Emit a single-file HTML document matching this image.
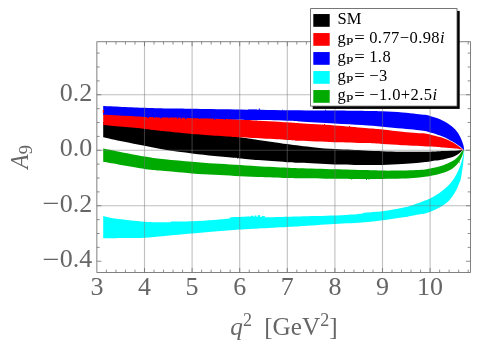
<!DOCTYPE html>
<html><head><meta charset="utf-8"><title>A9 vs q2</title>
<style>
html,body{margin:0;padding:0;background:#fff;}
body{width:500px;height:354px;overflow:hidden;position:relative;font-family:"Liberation Serif",serif;}
</style></head><body>
<svg width="500" height="354" viewBox="0 0 500 354" style="position:absolute;left:0;top:0;will-change:transform">
<rect width="500" height="354" fill="#fff"/>
<path d="M103.20 122.00 C110.08 122.83 129.70 125.42 144.50 127.00 C159.30 128.58 176.92 129.92 192.00 131.50 C207.08 133.08 227.00 135.53 235.00 136.50 C243.00 137.47 236.17 136.73 240.00 137.30 C243.83 137.87 252.62 139.13 258.00 139.90 C263.38 140.67 267.47 141.20 272.30 141.90 C277.13 142.60 282.38 143.45 287.00 144.10 C291.62 144.75 295.33 145.25 300.00 145.80 C304.67 146.35 309.25 146.85 315.00 147.40 C320.75 147.95 328.42 148.70 334.50 149.10 C340.58 149.50 346.42 149.58 351.50 149.80 C356.58 150.02 359.83 150.17 365.00 150.40 C370.17 150.63 376.33 150.98 382.50 151.20 C388.67 151.42 394.08 151.62 402.00 151.70 C409.92 151.78 423.13 151.80 430.00 151.70 C436.87 151.60 438.63 151.32 443.20 151.10 C447.77 150.88 454.22 150.57 457.40 150.40 C460.58 150.23 461.48 150.15 462.30 150.10 L462.50 150.20 C462.33 150.38 462.08 150.73 461.50 151.30 C460.92 151.87 460.08 152.82 459.00 153.60 C457.92 154.38 456.50 155.30 455.00 156.00 C453.50 156.70 451.97 157.23 450.00 157.80 C448.03 158.37 445.70 158.93 443.20 159.40 C440.70 159.87 437.20 160.25 435.00 160.60 C432.80 160.95 431.67 161.25 430.00 161.50 C428.33 161.75 427.27 161.85 425.00 162.10 C422.73 162.35 420.23 162.68 416.40 163.00 C412.57 163.32 407.65 163.68 402.00 164.00 C396.35 164.32 388.67 164.75 382.50 164.90 C376.33 165.05 373.00 164.98 365.00 164.90 C357.00 164.82 345.33 164.75 334.50 164.40 C323.67 164.05 307.92 163.17 300.00 162.80 C292.08 162.43 291.67 162.48 287.00 162.20 C282.33 161.92 276.83 161.45 272.00 161.10 C267.17 160.75 263.42 160.53 258.00 160.10 C252.58 159.67 243.33 158.88 239.50 158.50 C235.67 158.12 239.18 158.23 235.00 157.80 C230.82 157.37 221.57 156.63 214.40 155.90 C207.23 155.17 200.23 154.43 192.00 153.40 C183.77 152.37 172.92 150.97 165.00 149.70 C157.08 148.43 151.50 147.15 144.50 145.80 C137.50 144.45 129.88 143.02 123.00 141.60 C116.12 140.18 106.50 138.02 103.20 137.30 Z" fill="#000000"/>
<path d="M103.20 110.00 C110.08 110.67 129.70 112.83 144.50 114.00 C159.30 115.17 176.17 116.08 192.00 117.00 C207.83 117.92 229.67 118.97 239.50 119.50 C249.33 120.03 243.08 119.73 251.00 120.20 C258.92 120.67 278.83 121.78 287.00 122.30 C295.17 122.82 292.08 122.78 300.00 123.30 C307.92 123.82 323.67 124.63 334.50 125.40 C345.33 126.17 357.00 127.23 365.00 127.90 C373.00 128.57 376.28 128.76 382.50 129.40 C388.72 130.04 396.65 131.15 402.30 131.75 C407.95 132.35 412.62 132.71 416.40 133.00 C420.18 133.29 422.73 133.27 425.00 133.50 C427.27 133.73 428.33 134.02 430.00 134.40 C431.67 134.78 433.33 135.35 435.00 135.80 C436.67 136.25 438.33 136.62 440.00 137.10 C441.67 137.58 443.33 138.07 445.00 138.70 C446.67 139.33 448.50 140.18 450.00 140.90 C451.50 141.62 452.67 142.18 454.00 143.00 C455.33 143.82 456.83 144.97 458.00 145.80 C459.17 146.63 460.08 147.30 461.00 148.00 C461.92 148.70 463.08 149.67 463.50 150.00 L463.30 149.90 C462.75 149.78 461.38 149.42 460.00 149.20 C458.62 148.98 457.80 148.87 455.00 148.60 C452.20 148.33 447.37 147.95 443.20 147.60 C439.03 147.25 436.82 146.90 430.00 146.50 C423.18 146.10 410.22 145.60 402.30 145.20 C394.38 144.80 388.72 144.45 382.50 144.10 C376.28 143.75 373.00 143.42 365.00 143.10 C357.00 142.78 345.33 142.58 334.50 142.20 C323.67 141.82 307.92 141.18 300.00 140.80 C292.08 140.42 297.08 140.48 287.00 139.90 C276.92 139.32 248.17 137.78 239.50 137.30 C230.83 136.82 242.92 137.57 235.00 137.00 C227.08 136.43 203.67 134.85 192.00 133.90 C180.33 132.95 172.92 132.13 165.00 131.30 C157.08 130.47 154.80 129.93 144.50 128.90 C134.20 127.87 110.08 125.73 103.20 125.10 Z" fill="#ff0000"/>
<path d="M103.20 105.90 C110.08 106.22 133.37 107.35 144.50 107.80 C155.63 108.25 162.08 108.43 170.00 108.60 C177.92 108.77 181.17 108.65 192.00 108.80 C202.83 108.95 219.17 109.27 235.00 109.50 C250.83 109.73 270.42 110.02 287.00 110.20 C303.58 110.38 321.50 110.47 334.50 110.60 C347.50 110.73 357.00 110.88 365.00 111.00 C373.00 111.12 376.28 111.05 382.50 111.30 C388.72 111.55 396.65 112.07 402.30 112.50 C407.95 112.93 412.62 113.52 416.40 113.90 C420.18 114.28 422.73 114.45 425.00 114.80 C427.27 115.15 428.33 115.55 430.00 116.00 C431.67 116.45 433.33 116.95 435.00 117.50 C436.67 118.05 438.33 118.58 440.00 119.30 C441.67 120.02 443.33 120.85 445.00 121.80 C446.67 122.75 448.33 123.77 450.00 125.00 C451.67 126.23 453.67 127.87 455.00 129.20 C456.33 130.53 457.08 131.62 458.00 133.00 C458.92 134.38 459.75 135.92 460.50 137.50 C461.25 139.08 461.98 141.08 462.50 142.50 C463.02 143.92 463.33 144.78 463.60 146.00 C463.87 147.22 464.02 149.17 464.10 149.80 L463.50 150.00 C463.17 149.63 462.25 148.50 461.50 147.80 C460.75 147.10 460.08 146.60 459.00 145.80 C457.92 145.00 456.50 143.92 455.00 143.00 C453.50 142.08 451.67 141.22 450.00 140.30 C448.33 139.38 446.67 138.28 445.00 137.50 C443.33 136.72 441.67 136.23 440.00 135.60 C438.33 134.97 436.67 134.23 435.00 133.70 C433.33 133.17 431.67 132.83 430.00 132.40 C428.33 131.97 427.27 131.50 425.00 131.10 C422.73 130.70 420.18 130.42 416.40 130.00 C412.62 129.58 407.95 129.15 402.30 128.60 C396.65 128.05 389.22 127.30 382.50 126.70 C375.78 126.10 370.00 125.53 362.00 125.00 C354.00 124.47 344.83 124.10 334.50 123.50 C324.17 122.90 307.92 121.87 300.00 121.40 C292.08 120.93 295.17 120.92 287.00 120.70 C278.83 120.48 259.67 120.30 251.00 120.10 C242.33 119.90 244.83 119.80 235.00 119.50 C225.17 119.20 202.83 118.62 192.00 118.30 C181.17 117.98 177.92 117.83 170.00 117.60 C162.08 117.37 155.63 117.37 144.50 116.90 C133.37 116.43 110.08 115.15 103.20 114.80 Z" fill="#0000ff"/>
<path d="M103.20 216.00 C105.17 216.43 108.12 217.63 115.00 218.60 C121.88 219.57 136.17 221.18 144.50 221.80 C152.83 222.42 160.58 222.23 165.00 222.30 C169.42 222.37 169.83 222.32 171.00 222.20 C172.17 222.08 168.50 221.75 172.00 221.60 C175.50 221.45 184.93 221.57 192.00 221.30 C199.07 221.03 208.23 220.45 214.40 220.00 C220.57 219.55 226.40 219.03 229.00 218.60 C231.60 218.17 228.25 217.65 230.00 217.40 C231.75 217.15 236.17 217.23 239.50 217.10 C242.83 216.97 245.75 216.57 250.00 216.60 C254.25 216.63 258.83 217.28 265.00 217.30 C271.17 217.32 281.17 216.83 287.00 216.70 C292.83 216.57 292.08 216.68 300.00 216.50 C307.92 216.32 325.92 215.92 334.50 215.60 C343.08 215.28 346.80 214.97 351.50 214.60 C356.20 214.23 360.45 213.72 362.70 213.40 C364.95 213.08 361.70 213.07 365.00 212.70 C368.30 212.33 377.80 211.73 382.50 211.20 C387.20 210.67 389.07 210.25 393.20 209.50 C397.33 208.75 402.60 207.95 407.30 206.70 C412.00 205.45 418.45 203.02 421.40 202.00 C424.35 200.98 423.57 201.18 425.00 200.60 C426.43 200.02 428.33 199.30 430.00 198.50 C431.67 197.70 433.33 196.80 435.00 195.80 C436.67 194.80 438.33 193.72 440.00 192.50 C441.67 191.28 443.50 189.78 445.00 188.50 C446.50 187.22 447.67 186.22 449.00 184.80 C450.33 183.38 451.83 181.63 453.00 180.00 C454.17 178.37 455.08 176.67 456.00 175.00 C456.92 173.33 457.75 171.67 458.50 170.00 C459.25 168.33 459.92 166.67 460.50 165.00 C461.08 163.33 461.55 161.67 462.00 160.00 C462.45 158.33 462.87 156.62 463.20 155.00 C463.53 153.38 463.87 151.08 464.00 150.30 L464.30 150.30 C464.25 151.08 464.13 153.38 464.00 155.00 C463.87 156.62 463.67 158.33 463.50 160.00 C463.33 161.67 463.22 163.33 463.00 165.00 C462.78 166.67 462.45 168.33 462.20 170.00 C461.95 171.67 461.78 173.33 461.50 175.00 C461.22 176.67 460.83 178.75 460.50 180.00 C460.17 181.25 460.08 181.08 459.50 182.50 C458.92 183.92 457.92 186.58 457.00 188.50 C456.08 190.42 455.17 192.17 454.00 194.00 C452.83 195.83 451.50 197.83 450.00 199.50 C448.50 201.17 446.67 202.72 445.00 204.00 C443.33 205.28 441.67 206.23 440.00 207.20 C438.33 208.17 436.67 209.02 435.00 209.80 C433.33 210.58 431.67 211.30 430.00 211.90 C428.33 212.50 426.43 213.03 425.00 213.40 C423.57 213.77 424.35 213.55 421.40 214.10 C418.45 214.65 412.00 215.93 407.30 216.70 C402.60 217.47 397.33 218.10 393.20 218.70 C389.07 219.30 387.20 219.72 382.50 220.30 C377.80 220.88 373.00 221.58 365.00 222.20 C357.00 222.82 345.33 223.33 334.50 224.00 C323.67 224.67 307.92 225.72 300.00 226.20 C292.08 226.68 294.00 226.53 287.00 226.90 C280.00 227.27 265.92 227.95 258.00 228.40 C250.08 228.85 246.77 229.07 239.50 229.60 C232.23 230.13 222.32 230.95 214.40 231.60 C206.48 232.25 200.23 232.78 192.00 233.50 C183.77 234.22 172.92 235.20 165.00 235.90 C157.08 236.60 150.33 237.33 144.50 237.70 C138.67 238.07 134.92 238.02 130.00 238.10 C125.08 238.18 119.47 238.18 115.00 238.20 C110.53 238.22 105.17 238.20 103.20 238.20 Z" fill="#00ffff"/>
<path d="M103.20 148.40 C110.08 149.75 134.20 154.68 144.50 156.50 C154.80 158.32 157.08 158.42 165.00 159.30 C172.92 160.18 183.77 161.08 192.00 161.80 C200.23 162.52 207.23 163.10 214.40 163.60 C221.57 164.10 227.73 164.35 235.00 164.80 C242.27 165.25 249.33 165.80 258.00 166.30 C266.67 166.80 280.00 167.47 287.00 167.80 C294.00 168.13 292.08 168.05 300.00 168.30 C307.92 168.55 323.67 169.00 334.50 169.30 C345.33 169.60 357.00 169.88 365.00 170.10 C373.00 170.32 376.33 170.53 382.50 170.60 C388.67 170.67 396.35 170.60 402.00 170.50 C407.65 170.40 412.57 170.17 416.40 170.00 C420.23 169.83 422.73 169.75 425.00 169.50 C427.27 169.25 428.33 168.83 430.00 168.50 C431.67 168.17 433.33 167.88 435.00 167.50 C436.67 167.12 438.33 166.70 440.00 166.20 C441.67 165.70 443.33 165.17 445.00 164.50 C446.67 163.83 448.33 163.03 450.00 162.20 C451.67 161.37 453.50 160.62 455.00 159.50 C456.50 158.38 457.92 156.75 459.00 155.50 C460.08 154.25 460.83 152.87 461.50 152.00 C462.17 151.13 462.75 150.58 463.00 150.30 L464.00 150.30 C463.83 150.83 463.42 152.30 463.00 153.50 C462.58 154.70 462.17 156.08 461.50 157.50 C460.83 158.92 460.08 160.50 459.00 162.00 C457.92 163.50 456.50 165.17 455.00 166.50 C453.50 167.83 451.67 169.05 450.00 170.00 C448.33 170.95 446.67 171.57 445.00 172.20 C443.33 172.83 441.67 173.33 440.00 173.80 C438.33 174.27 436.67 174.63 435.00 175.00 C433.33 175.37 431.67 175.70 430.00 176.00 C428.33 176.30 427.27 176.50 425.00 176.80 C422.73 177.10 420.23 177.50 416.40 177.80 C412.57 178.10 407.65 178.40 402.00 178.60 C396.35 178.80 388.67 178.93 382.50 179.00 C376.33 179.07 373.00 179.04 365.00 179.00 C357.00 178.96 345.33 178.88 334.50 178.75 C323.67 178.62 307.92 178.32 300.00 178.20 C292.08 178.07 294.00 178.20 287.00 178.00 C280.00 177.80 266.67 177.35 258.00 177.00 C249.33 176.65 242.27 176.27 235.00 175.90 C227.73 175.53 221.57 175.22 214.40 174.80 C207.23 174.38 200.23 174.03 192.00 173.40 C183.77 172.77 172.92 171.75 165.00 171.00 C157.08 170.25 154.80 170.43 144.50 168.90 C134.20 167.37 110.08 162.98 103.20 161.80 Z" fill="#00aa00"/>
<path d="M251 217v-1.3h2.2v1.3zM254.6 217v-1.6h1.8v1.6zM257.8 217v-1.7h2.4v1.7zM261.8 217v-1h3v1z" fill="#00ffff"/>
<path d="M147.0 116.67h2.0v1.20h-2.0zM154.0 116.86h1.0v1.10h-1.0zM160.0 117.03h1.5v1.20h-1.5zM168.0 117.25h1.0v0.90h-1.0zM177.0 117.52h1.0v1.20h-1.0zM180.5 117.63h1.2v1.10h-1.2zM185.0 117.78h1.5v1.30h-1.5zM199.0 118.20h1.0v0.90h-1.0zM214.0 118.61h1.2v1.20h-1.2zM224.0 118.89h1.0v0.90h-1.0z" fill="#0000ff"/>
<path d="M248.0 109.97h9.0v-0.55h-9.0zM258.7 110.12h1.1v-1.50h-1.1zM282.0 110.43h1.0v-0.80h-1.0zM325.0 110.82h1.0v-1.00h-1.0z" fill="#0000ff"/>
<path d="M324.0 125.06h1.0v-1.00h-1.0zM349.0 126.89h1.0v-0.80h-1.0z" fill="#ff0000"/>
<path d="M351.0 178.59h1.2v1.00h-1.2zM366.0 178.70h1.0v1.20h-1.0zM368.5 178.70h1.0v1.00h-1.0zM459.0 161.70h1.0v0.80h-1.0z" fill="#00aa00"/>
<rect x="102.8" y="109.9" width="1.2" height="2.8" fill="#ff0000"/>
<g stroke="#7a7a7a" stroke-opacity="0.47" stroke-width="1.1"><line x1="144.50" y1="41.75" x2="144.50" y2="272.45"/><line x1="192.10" y1="41.75" x2="192.10" y2="272.45"/><line x1="239.70" y1="41.75" x2="239.70" y2="272.45"/><line x1="287.30" y1="41.75" x2="287.30" y2="272.45"/><line x1="334.90" y1="41.75" x2="334.90" y2="272.45"/><line x1="382.50" y1="41.75" x2="382.50" y2="272.45"/><line x1="430.10" y1="41.75" x2="430.10" y2="272.45"/><line x1="96.87" y1="94.75" x2="470.45" y2="94.75"/><line x1="96.87" y1="150.25" x2="470.45" y2="150.25"/><line x1="96.87" y1="205.75" x2="470.45" y2="205.75"/></g>
<g stroke="#6a6a6a" stroke-width="0.75"><line x1="106.42" y1="272.45" x2="106.42" y2="269.65"/><line x1="106.42" y1="41.75" x2="106.42" y2="44.55"/><line x1="115.94" y1="272.45" x2="115.94" y2="269.65"/><line x1="115.94" y1="41.75" x2="115.94" y2="44.55"/><line x1="125.46" y1="272.45" x2="125.46" y2="269.65"/><line x1="125.46" y1="41.75" x2="125.46" y2="44.55"/><line x1="134.98" y1="272.45" x2="134.98" y2="269.65"/><line x1="134.98" y1="41.75" x2="134.98" y2="44.55"/><line x1="144.50" y1="272.45" x2="144.50" y2="267.95"/><line x1="144.50" y1="41.75" x2="144.50" y2="46.25"/><line x1="154.02" y1="272.45" x2="154.02" y2="269.65"/><line x1="154.02" y1="41.75" x2="154.02" y2="44.55"/><line x1="163.54" y1="272.45" x2="163.54" y2="269.65"/><line x1="163.54" y1="41.75" x2="163.54" y2="44.55"/><line x1="173.06" y1="272.45" x2="173.06" y2="269.65"/><line x1="173.06" y1="41.75" x2="173.06" y2="44.55"/><line x1="182.58" y1="272.45" x2="182.58" y2="269.65"/><line x1="182.58" y1="41.75" x2="182.58" y2="44.55"/><line x1="192.10" y1="272.45" x2="192.10" y2="267.95"/><line x1="192.10" y1="41.75" x2="192.10" y2="46.25"/><line x1="201.62" y1="272.45" x2="201.62" y2="269.65"/><line x1="201.62" y1="41.75" x2="201.62" y2="44.55"/><line x1="211.14" y1="272.45" x2="211.14" y2="269.65"/><line x1="211.14" y1="41.75" x2="211.14" y2="44.55"/><line x1="220.66" y1="272.45" x2="220.66" y2="269.65"/><line x1="220.66" y1="41.75" x2="220.66" y2="44.55"/><line x1="230.18" y1="272.45" x2="230.18" y2="269.65"/><line x1="230.18" y1="41.75" x2="230.18" y2="44.55"/><line x1="239.70" y1="272.45" x2="239.70" y2="267.95"/><line x1="239.70" y1="41.75" x2="239.70" y2="46.25"/><line x1="249.22" y1="272.45" x2="249.22" y2="269.65"/><line x1="249.22" y1="41.75" x2="249.22" y2="44.55"/><line x1="258.74" y1="272.45" x2="258.74" y2="269.65"/><line x1="258.74" y1="41.75" x2="258.74" y2="44.55"/><line x1="268.26" y1="272.45" x2="268.26" y2="269.65"/><line x1="268.26" y1="41.75" x2="268.26" y2="44.55"/><line x1="277.78" y1="272.45" x2="277.78" y2="269.65"/><line x1="277.78" y1="41.75" x2="277.78" y2="44.55"/><line x1="287.30" y1="272.45" x2="287.30" y2="267.95"/><line x1="287.30" y1="41.75" x2="287.30" y2="46.25"/><line x1="296.82" y1="272.45" x2="296.82" y2="269.65"/><line x1="296.82" y1="41.75" x2="296.82" y2="44.55"/><line x1="306.34" y1="272.45" x2="306.34" y2="269.65"/><line x1="306.34" y1="41.75" x2="306.34" y2="44.55"/><line x1="315.86" y1="272.45" x2="315.86" y2="269.65"/><line x1="315.86" y1="41.75" x2="315.86" y2="44.55"/><line x1="325.38" y1="272.45" x2="325.38" y2="269.65"/><line x1="325.38" y1="41.75" x2="325.38" y2="44.55"/><line x1="334.90" y1="272.45" x2="334.90" y2="267.95"/><line x1="334.90" y1="41.75" x2="334.90" y2="46.25"/><line x1="344.42" y1="272.45" x2="344.42" y2="269.65"/><line x1="344.42" y1="41.75" x2="344.42" y2="44.55"/><line x1="353.94" y1="272.45" x2="353.94" y2="269.65"/><line x1="353.94" y1="41.75" x2="353.94" y2="44.55"/><line x1="363.46" y1="272.45" x2="363.46" y2="269.65"/><line x1="363.46" y1="41.75" x2="363.46" y2="44.55"/><line x1="372.98" y1="272.45" x2="372.98" y2="269.65"/><line x1="372.98" y1="41.75" x2="372.98" y2="44.55"/><line x1="382.50" y1="272.45" x2="382.50" y2="267.95"/><line x1="382.50" y1="41.75" x2="382.50" y2="46.25"/><line x1="392.02" y1="272.45" x2="392.02" y2="269.65"/><line x1="392.02" y1="41.75" x2="392.02" y2="44.55"/><line x1="401.54" y1="272.45" x2="401.54" y2="269.65"/><line x1="401.54" y1="41.75" x2="401.54" y2="44.55"/><line x1="411.06" y1="272.45" x2="411.06" y2="269.65"/><line x1="411.06" y1="41.75" x2="411.06" y2="44.55"/><line x1="420.58" y1="272.45" x2="420.58" y2="269.65"/><line x1="420.58" y1="41.75" x2="420.58" y2="44.55"/><line x1="430.10" y1="272.45" x2="430.10" y2="267.95"/><line x1="430.10" y1="41.75" x2="430.10" y2="46.25"/><line x1="439.62" y1="272.45" x2="439.62" y2="269.65"/><line x1="439.62" y1="41.75" x2="439.62" y2="44.55"/><line x1="449.14" y1="272.45" x2="449.14" y2="269.65"/><line x1="449.14" y1="41.75" x2="449.14" y2="44.55"/><line x1="458.66" y1="272.45" x2="458.66" y2="269.65"/><line x1="458.66" y1="41.75" x2="458.66" y2="44.55"/><line x1="468.18" y1="272.45" x2="468.18" y2="269.65"/><line x1="468.18" y1="41.75" x2="468.18" y2="44.55"/><line x1="96.87" y1="261.25" x2="101.37" y2="261.25"/><line x1="470.45" y1="261.25" x2="465.95" y2="261.25"/><line x1="96.87" y1="247.38" x2="99.67" y2="247.38"/><line x1="470.45" y1="247.38" x2="467.65" y2="247.38"/><line x1="96.87" y1="233.50" x2="99.67" y2="233.50"/><line x1="470.45" y1="233.50" x2="467.65" y2="233.50"/><line x1="96.87" y1="219.62" x2="99.67" y2="219.62"/><line x1="470.45" y1="219.62" x2="467.65" y2="219.62"/><line x1="96.87" y1="205.75" x2="101.37" y2="205.75"/><line x1="470.45" y1="205.75" x2="465.95" y2="205.75"/><line x1="96.87" y1="191.88" x2="99.67" y2="191.88"/><line x1="470.45" y1="191.88" x2="467.65" y2="191.88"/><line x1="96.87" y1="178.00" x2="99.67" y2="178.00"/><line x1="470.45" y1="178.00" x2="467.65" y2="178.00"/><line x1="96.87" y1="164.12" x2="99.67" y2="164.12"/><line x1="470.45" y1="164.12" x2="467.65" y2="164.12"/><line x1="96.87" y1="150.25" x2="101.37" y2="150.25"/><line x1="470.45" y1="150.25" x2="465.95" y2="150.25"/><line x1="96.87" y1="136.38" x2="99.67" y2="136.38"/><line x1="470.45" y1="136.38" x2="467.65" y2="136.38"/><line x1="96.87" y1="122.50" x2="99.67" y2="122.50"/><line x1="470.45" y1="122.50" x2="467.65" y2="122.50"/><line x1="96.87" y1="108.62" x2="99.67" y2="108.62"/><line x1="470.45" y1="108.62" x2="467.65" y2="108.62"/><line x1="96.87" y1="94.75" x2="101.37" y2="94.75"/><line x1="470.45" y1="94.75" x2="465.95" y2="94.75"/><line x1="96.87" y1="80.88" x2="99.67" y2="80.88"/><line x1="470.45" y1="80.88" x2="467.65" y2="80.88"/><line x1="96.87" y1="67.00" x2="99.67" y2="67.00"/><line x1="470.45" y1="67.00" x2="467.65" y2="67.00"/><line x1="96.87" y1="53.12" x2="99.67" y2="53.12"/><line x1="470.45" y1="53.12" x2="467.65" y2="53.12"/></g>
<rect x="96.87" y="41.75" width="373.58" height="230.70" fill="none" stroke="#666" stroke-width="0.82"/>
<g font-family="Liberation Serif, serif" font-size="26.0" fill="#666"><text x="96.90" y="295" text-anchor="middle">3</text><text x="144.50" y="295" text-anchor="middle">4</text><text x="192.10" y="295" text-anchor="middle">5</text><text x="239.70" y="295" text-anchor="middle">6</text><text x="287.30" y="295" text-anchor="middle">7</text><text x="334.90" y="295" text-anchor="middle">8</text><text x="382.50" y="295" text-anchor="middle">9</text><text x="430.10" y="295" text-anchor="middle">10</text><text x="92.3" y="100.95" text-anchor="end">0.2</text><text x="92.3" y="156.45" text-anchor="end">0.0</text><text x="92.3" y="211.95" text-anchor="end">0.2</text><text transform="translate(42.5,212.15) scale(1.17,1)">−</text><text x="92.3" y="267.45" text-anchor="end">0.4</text><text transform="translate(42.5,267.65) scale(1.17,1)">−</text></g>
<text x="230.3" y="335.3" font-family="Liberation Serif, serif" font-size="25.2" fill="#666"><tspan font-style="italic">q</tspan><tspan font-size="18" dy="-9">2</tspan><tspan dy="9" dx="12.3">[GeV</tspan><tspan font-size="18" dy="-9">2</tspan><tspan dy="9">]</tspan></text>
<g transform="translate(27.6,168.8) rotate(-90)" font-family="Liberation Serif, serif" fill="#666"><text transform="scale(0.9,1)" font-size="26" font-style="italic">A</text><text x="14.6" y="4.5" font-size="18.5">9</text></g>
<rect x="312.7" y="10.9" width="147" height="98" fill="#000"/>
<rect x="310.6" y="8.6" width="146.4" height="97.5" fill="#fff" stroke="#555" stroke-width="0.8"/>
<rect x="313.3" y="14.05" width="16.4" height="12.75" fill="#000000"/>
<text x="337.5" y="23.55" font-family="Liberation Serif, serif" fill="#000" font-size="16.5">SM</text>
<rect x="313.3" y="33.05" width="16.4" height="12.75" fill="#ff0000"/>
<text x="337.6" y="42.55" font-family="Liberation Serif, serif" fill="#000" font-size="16.5">g</text>
<text transform="translate(346.1,45.35) scale(1.22,1)" font-family="Liberation Serif, serif" fill="#000" font-size="10.8" stroke="#000" stroke-width="0.15">P</text>
<text transform="translate(354.3,42.55) scale(1.13,1)" font-family="Liberation Serif, serif" fill="#000" font-size="16.5">=</text>
<text x="369.2" y="42.55" font-family="Liberation Serif, serif" fill="#000" font-size="16.5" letter-spacing="0.42">0.77−0.98<tspan font-style="italic">i</tspan></text>
<rect x="313.3" y="52.05" width="16.4" height="12.75" fill="#0000ff"/>
<text x="337.6" y="61.55" font-family="Liberation Serif, serif" fill="#000" font-size="16.5">g</text>
<text transform="translate(346.1,64.35) scale(1.22,1)" font-family="Liberation Serif, serif" fill="#000" font-size="10.8" stroke="#000" stroke-width="0.15">P</text>
<text transform="translate(354.3,61.55) scale(1.13,1)" font-family="Liberation Serif, serif" fill="#000" font-size="16.5">=</text>
<text x="369.2" y="61.55" font-family="Liberation Serif, serif" fill="#000" font-size="16.5" letter-spacing="0.42">1.8</text>
<rect x="313.3" y="71.05" width="16.4" height="12.75" fill="#00ffff"/>
<text x="337.6" y="80.55" font-family="Liberation Serif, serif" fill="#000" font-size="16.5">g</text>
<text transform="translate(346.1,83.35) scale(1.22,1)" font-family="Liberation Serif, serif" fill="#000" font-size="10.8" stroke="#000" stroke-width="0.15">P</text>
<text transform="translate(354.3,80.55) scale(1.13,1)" font-family="Liberation Serif, serif" fill="#000" font-size="16.5">=</text>
<text x="369.2" y="80.55" font-family="Liberation Serif, serif" fill="#000" font-size="16.5" letter-spacing="0.42">−3</text>
<rect x="313.3" y="90.05" width="16.4" height="12.75" fill="#00aa00"/>
<text x="337.6" y="99.55" font-family="Liberation Serif, serif" fill="#000" font-size="16.5">g</text>
<text transform="translate(346.1,102.35) scale(1.22,1)" font-family="Liberation Serif, serif" fill="#000" font-size="10.8" stroke="#000" stroke-width="0.15">P</text>
<text transform="translate(354.3,99.55) scale(1.13,1)" font-family="Liberation Serif, serif" fill="#000" font-size="16.5">=</text>
<text x="369.2" y="99.55" font-family="Liberation Serif, serif" fill="#000" font-size="16.5" letter-spacing="0.42">−1.0+2.5<tspan font-style="italic">i</tspan></text>
</svg>
</body></html>
